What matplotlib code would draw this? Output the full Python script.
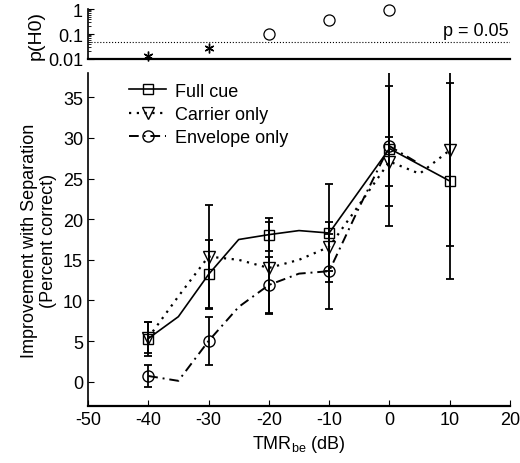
import numpy as np
import matplotlib.pyplot as plt

plt.rcParams['font.family'] = ['Liberation Sans', 'DejaVu Sans']
plt.rcParams['mathtext.fontset'] = 'custom'
plt.rcParams['mathtext.rm'] = 'Liberation Sans'
plt.rcParams['axes.unicode_minus'] = False

# p-values (top panel)
p_x = [-40, -30, -20, -10, 0]
p_val = [0.013, 0.028, 0.10, 0.37, 0.95]
p_sig = [True, True, False, False, False]

# line traces (every 5 dB)
x_full = [-40, -35, -30, -25, -20, -15, -10, -5, 0, 5, 10]
y_full = [5.3, 8.0, 13.2, 17.5, 18.1, 18.6, 18.3, 23.5, 28.7, 26.7, 24.7]
x_carr = [-40, -35, -30, -25, -20, -15, -10, -5, 0, 5, 10]
y_carr = [5.4, 10.5, 15.4, 15.0, 14.0, 15.0, 16.6, 21.8, 27.1, 25.6, 28.5]
x_env = [-40, -35, -30, -25, -20, -15, -10, -5, 0, 5]
y_env = [0.7, 0.1, 5.0, 9.2, 11.9, 13.3, 13.6, 21.5, 29.0, 26.8]

# measured points with error bars
xm_full = [-40, -30, -20, -10, 0, 10]
ym_full = [5.3, 13.2, 18.1, 18.3, 28.7, 24.7]
e_full = [2.1, 4.2, 2.0, 6.0, 9.5, 12.1]
xm_carr = [-40, -30, -20, -10, 0, 10]
ym_carr = [5.4, 15.4, 14.0, 16.6, 27.1, 28.5]
e_carr = [1.9, 6.3, 5.7, 3.0, 3.0, 11.8]
xm_env = [-40, -30, -20, -10, 0]
ym_env = [0.7, 5.0, 11.9, 13.6, 29.0]
e_env = [1.3, 2.95, 3.5, 4.6, 7.4]

fig = plt.figure(figsize=(5.2, 4.64), dpi=100)
ax_p = fig.add_axes([0.169, 0.8707, 0.812, 0.1077])
ax = fig.add_axes([0.169, 0.1228, 0.812, 0.7177])

fs = 13
dot = (0, (1, 2.5))
dashdot = (0, (5, 2.5, 1, 2.5))

# top panel
for x, p, s in zip(p_x, p_val, p_sig):
    if s:
        ax_p.plot(x, p, marker=(6, 2, 0), color='k', ms=7, mew=1.0, clip_on=False)
    else:
        ax_p.plot(x, p, marker='o', mfc='none', mec='k', ms=8, mew=0.9, clip_on=False)
ax_p.axhline(0.05, color='k', ls=':', lw=0.8)
ax_p.text(19.8, 0.065, 'p = 0.05', ha='right', va='bottom', fontsize=fs)
ax_p.set_yscale('log')
ax_p.set_ylim(0.01, 1)
ax_p.set_xlim(-50, 20)
ax_p.set_yticks([0.01, 0.1, 1])
ax_p.set_yticklabels(['0.01', '0.1', '1'])
ax_p.set_xticks([])
ax_p.set_ylabel('p(H0)', fontsize=14, labelpad=2)
ax_p.tick_params(axis='y', direction='in', labelsize=fs, length=4, which='major')
ax_p.tick_params(axis='y', direction='in', which='minor', length=2)
for s in ['top', 'right']:
    ax_p.spines[s].set_visible(False)
ax_p.spines['bottom'].set_linewidth(1.6)
ax_p.spines['left'].set_linewidth(1.2)

# main panel
ax.plot(x_full, y_full, color='k', ls='-', lw=1.2)
ax.plot(x_carr, y_carr, color='k', ls=dot, lw=1.6)
ax.plot(x_env, y_env, color='k', ls=dashdot, lw=1.4)

ax.errorbar(xm_full, ym_full, yerr=e_full, fmt='s', mfc='none', mec='k', ms=7,
            ecolor='k', elinewidth=1.3, capsize=3, capthick=1.3)
ax.errorbar(xm_carr, ym_carr, yerr=e_carr, fmt='v', mfc='none', mec='k', ms=8,
            ecolor='k', elinewidth=1.3, capsize=3, capthick=1.3)
ax.errorbar(xm_env, ym_env, yerr=e_env, fmt='o', mfc='none', mec='k', ms=8,
            ecolor='k', elinewidth=1.3, capsize=3, capthick=1.3)

# legend handles
h1, = ax.plot([], [], color='k', ls='-', lw=1.2, marker='s', mfc='none', mec='k', ms=7)
h2, = ax.plot([], [], color='k', ls=dot, lw=1.6, marker='v', mfc='none', mec='k', ms=8)
h3, = ax.plot([], [], color='k', ls=dashdot, lw=1.4, marker='o', mfc='none', mec='k', ms=8)
ax.legend([h1, h2, h3], ['Full cue', 'Carrier only', 'Envelope only'],
          loc='upper left', bbox_to_anchor=(0.06, 1.02), frameon=False,
          fontsize=fs, handlelength=2.0, handletextpad=0.5, labelspacing=0.35)

ax.set_xlim(-50, 20)
ax.set_ylim(-3, 38)
ax.set_xticks(np.arange(-50, 21, 10))
ax.set_yticks(np.arange(0, 36, 5))
ax.tick_params(direction='in', labelsize=fs, length=4)
ax.set_xlabel(r'TMR$_\mathregular{be}$ (dB)', fontsize=fs)
ax.set_ylabel('Improvement with Separation\n(Percent correct)', fontsize=fs)
for s in ['top', 'right']:
    ax.spines[s].set_visible(False)
ax.spines['bottom'].set_linewidth(1.6)
ax.spines['left'].set_linewidth(1.2)

fig.savefig('out.png', dpi=100)
